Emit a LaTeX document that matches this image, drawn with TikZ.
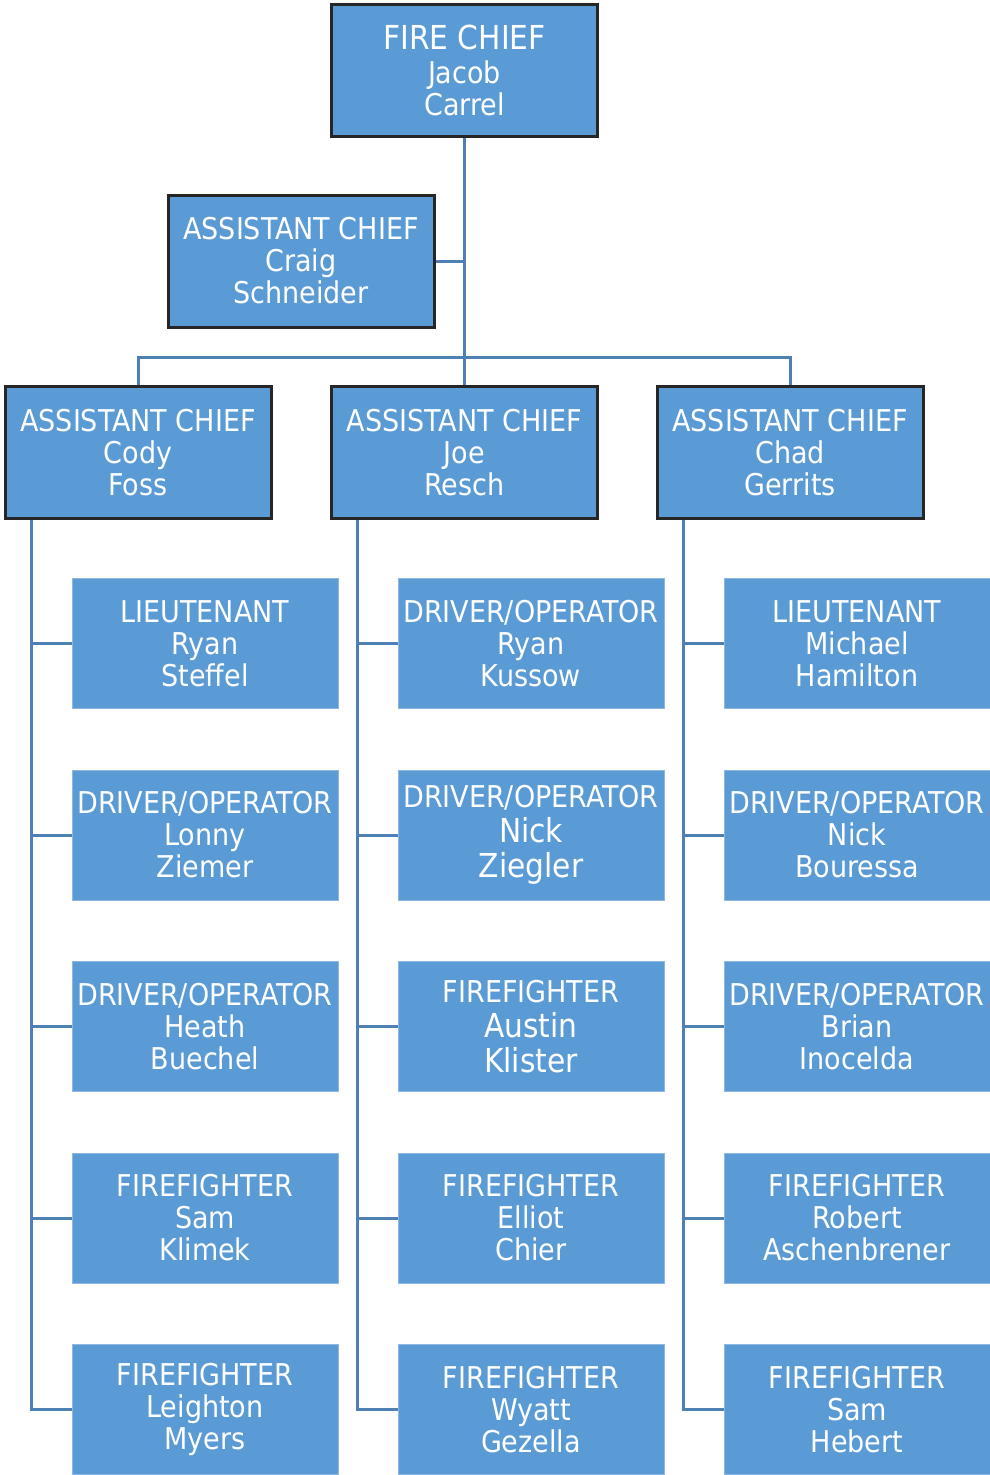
\documentclass[tikz,border=0pt]{standalone}
\usepackage{fontspec}
\setmainfont{DejaVu Sans Condensed}
\definecolor{boxblue}{HTML}{5B9BD5}
\definecolor{boxedge}{HTML}{262626}
\definecolor{linkblue}{HTML}{4E80B4}
\definecolor{softedge}{HTML}{8FB8E3}
\newcommand{\bigname}{\fontsize{33}{35}\selectfont}
\tikzset{
  chief/.style={draw=boxedge,line width=3pt,fill=boxblue,text=white,
    minimum width=266pt,minimum height=132pt,align=center,inner sep=0pt,
    font=\fontsize{30}{32}\selectfont},
  crew/.style={draw=softedge,line width=1pt,fill=boxblue,text=white,
    minimum width=266pt,minimum height=130pt,align=center,inner sep=0pt,
    font=\fontsize{30}{32}\selectfont},
  link/.style={draw=linkblue,line width=3pt}
}
\begin{document}
\begin{tikzpicture}[x=1pt,y=-1pt]
  \useasboundingbox (0,0) rectangle (990,1475);
  % chiefs
  \node[chief] (fc) at (464.5,70) {\bigname FIRE CHIEF\\[2pt]Jacob\\Carrel};
  \node[chief] (ac) at (301,261) {ASSISTANT CHIEF\\Craig\\Schneider};
  \node[chief] (acl) at (138,452.5) {ASSISTANT CHIEF\\Cody\\Foss};
  \node[chief] (acm) at (464.5,452.5) {ASSISTANT CHIEF\\Joe\\Resch};
  \node[chief] (acr) at (790,452.5) {ASSISTANT CHIEF\\Chad\\Gerrits};
  % left crew
  \node[crew] (l1) at (205,643.5) {LIEUTENANT\\Ryan\\Steffel};
  \node[crew] (l2) at (205,835) {DRIVER/OPERATOR\\Lonny\\Ziemer};
  \node[crew] (l3) at (205,1026.5) {DRIVER/OPERATOR\\Heath\\Buechel};
  \node[crew] (l4) at (205,1218) {FIREFIGHTER\\Sam\\Klimek};
  \node[crew] (l5) at (205,1409.5) {FIREFIGHTER\\Leighton\\Myers};
  % middle crew
  \node[crew] (m1) at (531,643.5) {DRIVER/OPERATOR\\Ryan\\Kussow};
  \node[crew] (m2) at (531,835) {DRIVER/OPERATOR\\[3pt]\bigname Nick\\[3pt]\bigname Ziegler};
  \node[crew] (m3) at (531,1026.5) {FIREFIGHTER\\[3pt]\bigname Austin\\[3pt]\bigname Klister};
  \node[crew] (m4) at (531,1218) {FIREFIGHTER\\Elliot\\Chier};
  \node[crew] (m5) at (531,1409.5) {FIREFIGHTER\\Wyatt\\Gezella};
  % right crew
  \node[crew] (r1) at (857,643.5) {LIEUTENANT\\Michael\\Hamilton};
  \node[crew] (r2) at (857,835) {DRIVER/OPERATOR\\Nick\\Bouressa};
  \node[crew] (r3) at (857,1026.5) {DRIVER/OPERATOR\\Brian\\Inocelda};
  \node[crew] (r4) at (857,1218) {FIREFIGHTER\\Robert\\Aschenbrener};
  \node[crew] (r5) at (857,1409.5) {FIREFIGHTER\\Sam\\Hebert};
  \coordinate (bus) at (464.5,357);
  \coordinate (lt) at (31,520);
  \coordinate (mt) at (357,520);
  \coordinate (rt) at (683,520);
  \begin{scope}[link]
    \draw (fc) -- (bus);
    \draw (ac.east) -- (ac.east -| fc.south);
    \draw (acl.north) |- (bus) -| (acr.north);
    \draw (bus) -- (acm.north);
    \draw (lt) |- (l5.west);
    \draw (mt) |- (m5.west);
    \draw (rt) |- (r5.west);
    \draw (l1.west) -- (l1.west -| lt);
    \draw (l2.west) -- (l2.west -| lt);
    \draw (l3.west) -- (l3.west -| lt);
    \draw (l4.west) -- (l4.west -| lt);
    \draw (m1.west) -- (m1.west -| mt);
    \draw (m2.west) -- (m2.west -| mt);
    \draw (m3.west) -- (m3.west -| mt);
    \draw (m4.west) -- (m4.west -| mt);
    \draw (r1.west) -- (r1.west -| rt);
    \draw (r2.west) -- (r2.west -| rt);
    \draw (r3.west) -- (r3.west -| rt);
    \draw (r4.west) -- (r4.west -| rt);
  \end{scope}
\end{tikzpicture}
\end{document}
